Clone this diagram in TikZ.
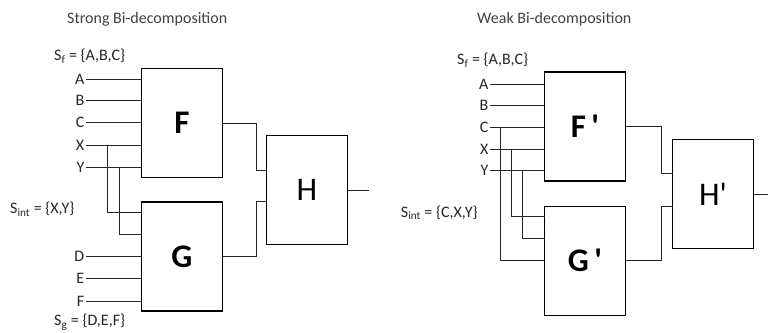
\documentclass[tikz,border=0pt]{standalone}
\usepackage{fontspec}
\setmainfont{Carlito}
\usetikzlibrary{positioning,calc}

\begin{document}
\begin{tikzpicture}[
  x=1pt,y=-1pt,
  every node/.style={font=\fontsize{16}{18}\selectfont,text=black!85},
  title/.style={anchor=west,inner sep=0pt,text=black!75},
  setlbl/.style={anchor=west,inner sep=0pt},
  block/.style={draw,line width=1.1pt,minimum width=81pt,minimum height=109pt,
              inner sep=0pt,text=black,font=\fontsize{33}{35}\selectfont},
  bold block/.style={block,font=\fontsize{33}{35}\selectfont\bfseries},
  pin/.style={anchor=east,inner sep=1.5pt},
  wire/.style={line width=0.9pt,black!85},
]
\useasboundingbox (0,0) rectangle (768,332);

% --- strong bi-decomposition
\node[title] (t1) at (67,19) {Strong Bi-decomposition};
\node[setlbl] (sf1) at (54,56) {S\textsubscript{f} = \{A,B,C\}};
\node[setlbl] (si1) at (10,209) {S\textsubscript{int} = \{X,Y\}};
\node[setlbl] (sg1) at (54,322) {S\textsubscript{g} = \{D,E,F\}};

\node[bold block] (F) at (182,123) {F};
\node[bold block] (G) at (182,256.5) {G};
\node[block] (H) at (307,190) {H};

\node[pin] (a1) at (86,79)    {A};
\node[pin] (b1) at (86,100.7) {B};
\node[pin] (c1) at (86,122.7) {C};
\node[pin] (x1) at (86,145)   {X};
\node[pin] (y1) at (86,167)   {Y};
\node[pin] (d1) at (86,256)   {D};
\node[pin] (e1) at (86,278.3) {E};
\node[pin] (f1) at (86,301)   {F};

\foreach \p in {a1,b1,c1,x1,y1}
  \draw[wire] (\p.east) -- (\p.east -| F.west);
\foreach \p in {d1,e1,f1}
  \draw[wire] (\p.east) -- (\p.east -| G.west);

% shared inputs fed down into G
\coordinate (xs1) at (107.7,145);
\coordinate (ys1) at (119.3,167);
\coordinate (gx1) at (142,212.7);
\coordinate (gy1) at (142,234.3);
\draw[wire] (xs1) |- (gx1);
\draw[wire] (ys1) |- (gy1);

% outputs into H
\coordinate (hf1) at (266,170);
\coordinate (hg1) at (266,201.7);
\coordinate (ho1) at ($(H.east)+(21,0)$);
\draw[wire] (F.east) -- ++(33,0) |- (hf1);
\draw[wire] (G.east) -- ++(33,0) |- (hg1);
\draw[wire] (H.east) -- (ho1);

% --- weak bi-decomposition
\node[title] (t2) at (477,19) {Weak Bi-decomposition};
\node[setlbl] (sf2) at (457,60) {S\textsubscript{f} = \{A,B,C\}};
\node[setlbl] (si2) at (400.7,212.7) {S\textsubscript{int} = \{C,X,Y\}};

\node[bold block] (Fp) at (585,126.5) {F\,\textquotesingle};
\node[bold block] (Gp) at (585,260.7) {G\,\textquotesingle};
\node[block] (Hp) at (713,194.3) {H\textquotesingle};

\node[pin] (a2) at (490,84)    {A};
\node[pin] (b2) at (490,105.3) {B};
\node[pin] (c2) at (490,127.3) {C};
\node[pin] (x2) at (490,149)   {X};
\node[pin] (y2) at (490,170.7) {Y};

\foreach \p in {a2,b2,c2,x2,y2}
  \draw[wire] (\p.east) -- (\p.east -| Fp.west);

% shared inputs fed down into G'
\coordinate (cs2) at (500.3,127.3);
\coordinate (xs2) at (511.7,149);
\coordinate (ys2) at (522.3,170.7);
\coordinate (gx2) at (544.5,216.7);
\coordinate (gy2) at (544.5,238.3);
\draw[wire] (cs2) |- (Gp.west);
\draw[wire] (xs2) |- (gx2);
\draw[wire] (ys2) |- (gy2);

% outputs into H'
\coordinate (hf2) at (672.7,173.3);
\coordinate (hg2) at (672.7,206);
\coordinate (ho2) at (768,194.3);
\draw[wire] (Fp.east) -- ++(35.5,0) |- (hf2);
\draw[wire] (Gp.east) -- ++(35.5,0) |- (hg2);
\draw[wire] (Hp.east) -- (ho2);

\end{tikzpicture}
\end{document}
